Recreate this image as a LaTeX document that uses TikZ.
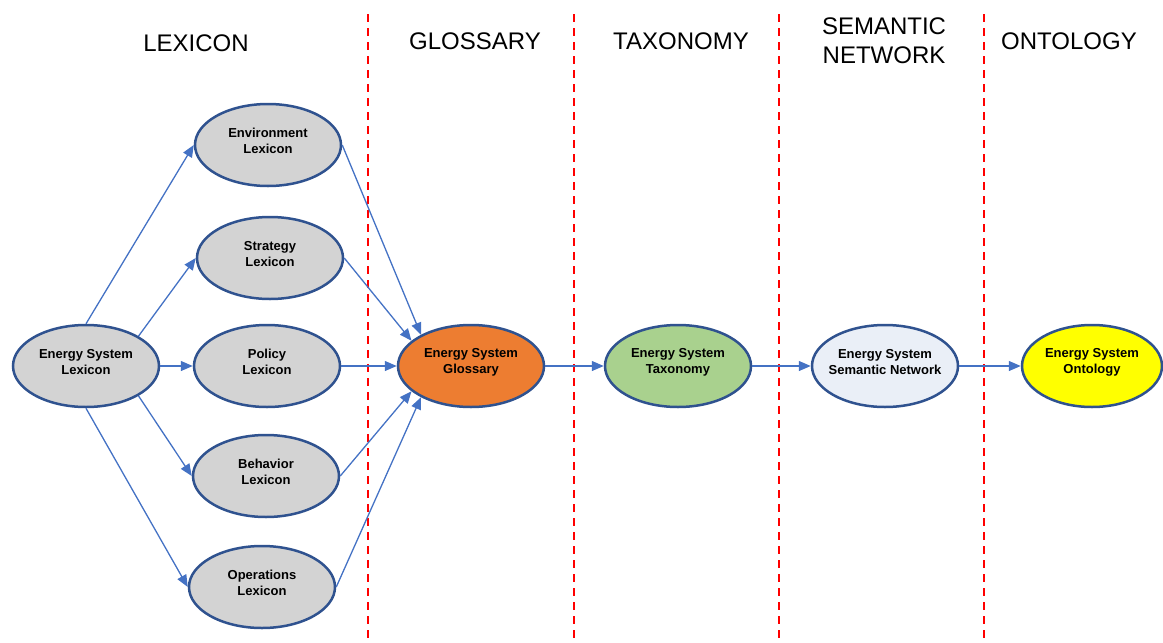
\documentclass[tikz,border=0pt]{standalone}
\usepackage{fontspec}
\setmainfont{Liberation Sans}
\usetikzlibrary{shapes.geometric,arrows.meta}
\definecolor{edgeblue}{HTML}{2F528F}
\definecolor{arrowblue}{HTML}{4472C4}
\definecolor{lexgray}{HTML}{D3D3D3}
\definecolor{glossorange}{HTML}{ED7D31}
\definecolor{taxgreen}{HTML}{A9D18E}
\definecolor{netpale}{HTML}{EAEFF7}
\definecolor{ontyellow}{HTML}{FFFF00}
\tikzset{
  term/.style={ellipse, draw=edgeblue, line width=2.5pt, minimum width=146pt,
    minimum height=82pt, inner sep=0pt},
  termtext/.style={align=center, inner sep=0pt,
    font=\fontsize{13}{16}\selectfont\bfseries},
  link/.style={draw=arrowblue, line width=1.3pt, -{Triangle[length=12pt,width=10pt]}},
  divider/.style={draw=red, line width=2.5pt, dash pattern=on 8pt off 6pt},
  stage/.style={font=\fontsize{24}{29}\selectfont, align=center}
}
\begin{document}
\begin{tikzpicture}[x=1pt,y=-1pt]
\useasboundingbox (0,0) rectangle (1163,643);

% stage dividers
\foreach \xx in {368,574,779,984}
  \draw[divider] (\xx,14) -- (\xx,643);

% stage headings
\node[stage] (hlex) at (196,43) {LEXICON};
\node[stage] (hglo) at (475,41) {GLOSSARY};
\node[stage] (htax) at (681,41) {TAXONOMY};
\node[stage] (hsem) at (884,41) {SEMANTIC\\NETWORK};
\node[stage] (hont) at (1069,41) {ONTOLOGY};

% lexicons
\node[term, fill=lexgray] (esl) at (86,366) {};
\node[term, fill=lexgray] (env) at (268,145) {};
\node[term, fill=lexgray] (str) at (270,258) {};
\node[term, fill=lexgray] (pol) at (267,366) {};
\node[term, fill=lexgray] (beh) at (266,476) {};
\node[term, fill=lexgray] (ops) at (262,587) {};

% later stages
\node[term, fill=glossorange] (glo) at (471,366) {};
\node[term, fill=taxgreen] (tax) at (678,366) {};
\node[term, fill=netpale] (sem) at (885,366) {};
\node[term, fill=ontyellow, minimum width=140pt] (ont) at (1092,366) {};

% labels, set a little above each ellipse's centre
\node[termtext] (esl-t) at ([yshift=4pt]esl.center) {Energy System\\Lexicon};
\node[termtext] (env-t) at ([yshift=4pt]env.center) {Environment\\Lexicon};
\node[termtext] (str-t) at ([yshift=4pt]str.center) {Strategy\\Lexicon};
\node[termtext] (pol-t) at ([yshift=4pt]pol.center) {Policy\\Lexicon};
\node[termtext] (beh-t) at ([yshift=4pt]beh.center) {Behavior\\Lexicon};
\node[termtext] (ops-t) at ([yshift=4pt]ops.center) {Operations\\Lexicon};
\node[termtext] (glo-t) at ([yshift=4pt]glo.center) {Energy System\\Glossary};
\node[termtext] (tax-t) at ([yshift=4pt]tax.center) {Energy System\\Taxonomy};
\node[termtext] (sem-t) at ([yshift=4pt]sem.center) {Energy System\\Semantic Network};
\node[termtext] (ont-t) at ([yshift=4pt]ont.center) {Energy System\\Ontology};

% connectors
\draw[link] (esl.north) -- (env.west);
\draw[link] (esl.north east) -- (str.west);
\draw[link] (esl.east) -- (pol.west);
\draw[link] (esl.south east) -- (beh.west);
\draw[link] (esl.south) -- (ops.west);

\draw[link] (env.east) -- (glo.148);
\draw[link] (str.east) -- (glo.157);
\draw[link] (pol.east) -- (glo.west);
\draw[link] (beh.east) -- (glo.203);
\draw[link] (ops.east) -- (glo.212);

\draw[link] (glo.east) -- (tax.west);
\draw[link] (tax.east) -- (sem.west);
\draw[link] (sem.east) -- (ont.west);
\end{tikzpicture}
\end{document}
